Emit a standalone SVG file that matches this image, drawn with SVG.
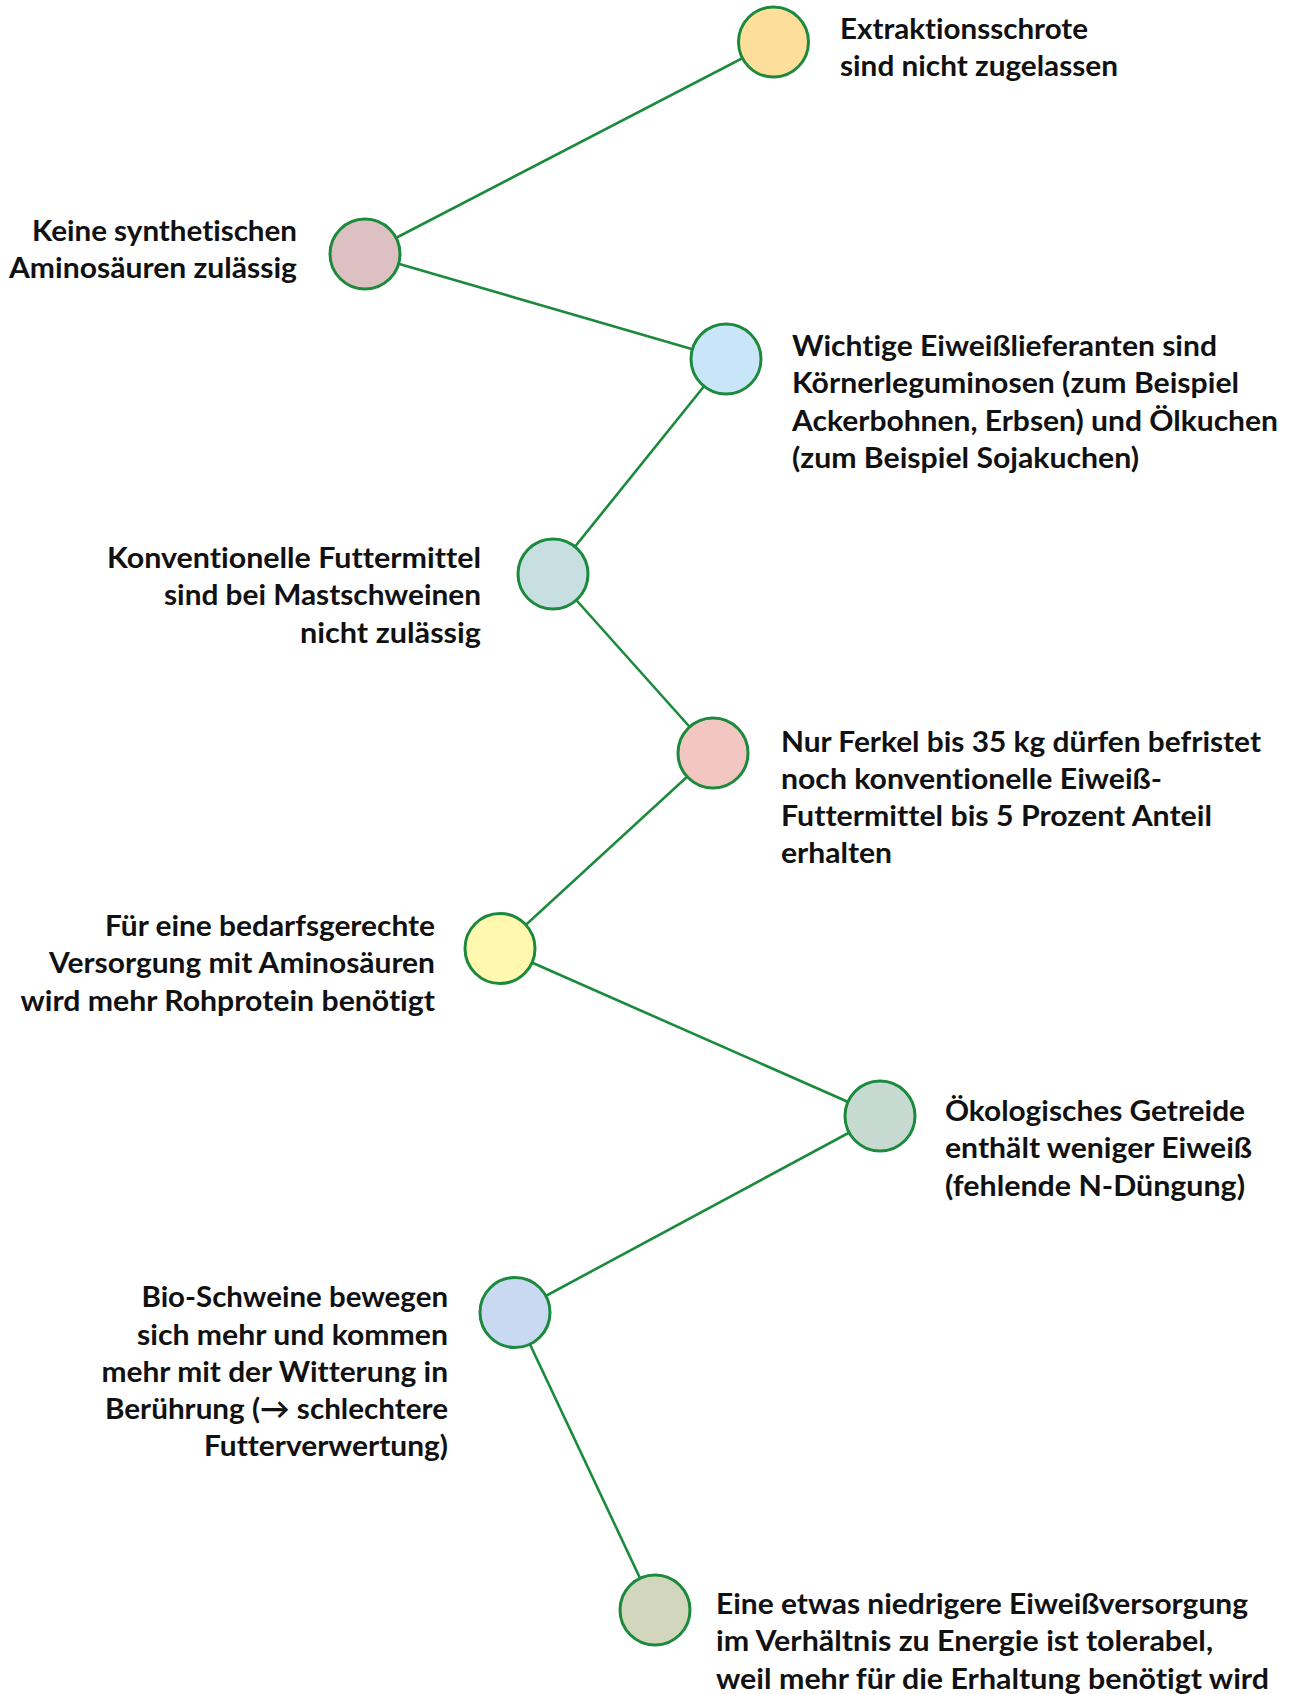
<svg xmlns="http://www.w3.org/2000/svg" width="1292" height="1694" viewBox="0 0 1292 1694">
<style>
text{font-family:Lato,"Noto Sans","DejaVu Sans",sans-serif;font-weight:700;font-size:29px;fill:#111;font-variant-ligatures:none;font-feature-settings:"liga" 0,"clig" 0}
.n{stroke:#1b8a3c;stroke-width:3}
.c line{stroke:#1b8a3c;stroke-width:2.6}
</style>
<rect width="1292" height="1694" fill="#fff"/>
<g class="c" id="connectors">
<line x1="773.5" y1="42" x2="365" y2="254"/>
<line x1="365" y1="254" x2="726" y2="359"/>
<line x1="726" y1="359" x2="553" y2="574"/>
<line x1="553" y1="574" x2="713" y2="753"/>
<line x1="713" y1="753" x2="500" y2="948.5"/>
<line x1="500" y1="948.5" x2="880" y2="1116"/>
<line x1="880" y1="1116" x2="515" y2="1312.5"/>
<line x1="515" y1="1312.5" x2="655" y2="1610"/>
</g>
<g id="n1"><circle class="n" cx="773.5" cy="42" r="35" fill="#fddf9b"/>
<text x="840" y="38.5" textLength="248" lengthAdjust="spacingAndGlyphs">Extraktionsschrote</text>
<text x="840" y="75.5" textLength="278" lengthAdjust="spacingAndGlyphs">sind nicht zugelassen</text></g>
<g id="n2"><circle class="n" cx="365" cy="254" r="35" fill="#ddc0c1"/>
<text x="32" y="241" textLength="265" lengthAdjust="spacingAndGlyphs">Keine synthetischen</text>
<text x="9" y="278" textLength="288" lengthAdjust="spacingAndGlyphs">Aminosäuren zulässig</text></g>
<g id="n3"><circle class="n" cx="726" cy="359" r="35" fill="#c9e6f8"/>
<text x="792" y="355.5" textLength="425" lengthAdjust="spacingAndGlyphs">Wichtige Eiweißlieferanten sind</text>
<text x="792" y="393" textLength="447" lengthAdjust="spacingAndGlyphs">Körnerleguminosen (zum Beispiel</text>
<text x="792" y="430.5" textLength="486" lengthAdjust="spacingAndGlyphs">Ackerbohnen, Erbsen) und Ölkuchen</text>
<text x="792" y="468" textLength="347" lengthAdjust="spacingAndGlyphs">(zum Beispiel Sojakuchen)</text></g>
<g id="n4"><circle class="n" cx="553" cy="574" r="35" fill="#c8dfe1"/>
<text x="107" y="567.5" textLength="374" lengthAdjust="spacingAndGlyphs">Konventionelle Futtermittel</text>
<text x="164" y="605" textLength="317" lengthAdjust="spacingAndGlyphs">sind bei Mastschweinen</text>
<text x="300" y="642.5" textLength="181" lengthAdjust="spacingAndGlyphs">nicht zulässig</text></g>
<g id="n5"><circle class="n" cx="713" cy="753" r="35" fill="#f3c6c2"/>
<text x="781" y="751.5" textLength="480" lengthAdjust="spacingAndGlyphs">Nur Ferkel bis 35 kg dürfen befristet</text>
<text x="781" y="788.5" textLength="381" lengthAdjust="spacingAndGlyphs">noch konventionelle Eiweiß-</text>
<text x="781" y="825.5" textLength="431" lengthAdjust="spacingAndGlyphs">Futtermittel bis 5 Prozent Anteil</text>
<text x="781" y="862.5" textLength="111" lengthAdjust="spacingAndGlyphs">erhalten</text></g>
<g id="n6"><circle class="n" cx="500" cy="948.5" r="35" fill="#fff8ae"/>
<text x="105" y="936" textLength="330" lengthAdjust="spacingAndGlyphs">Für eine bedarfsgerechte</text>
<text x="49" y="973" textLength="386" lengthAdjust="spacingAndGlyphs">Versorgung mit Aminosäuren</text>
<text x="20.5" y="1010.5" textLength="414.5" lengthAdjust="spacingAndGlyphs">wird mehr Rohprotein benötigt</text></g>
<g id="n7"><circle class="n" cx="880" cy="1116" r="35" fill="#c6dad1"/>
<text x="945" y="1120.5" textLength="300" lengthAdjust="spacingAndGlyphs">Ökologisches Getreide</text>
<text x="945" y="1157.5" textLength="307" lengthAdjust="spacingAndGlyphs">enthält weniger Eiweiß</text>
<text x="945" y="1195.5" textLength="300" lengthAdjust="spacingAndGlyphs">(fehlende N-Düngung)</text></g>
<g id="n8"><circle class="n" cx="515" cy="1312.5" r="35" fill="#c8d9f1"/>
<text x="141.5" y="1307" textLength="306.5" lengthAdjust="spacingAndGlyphs">Bio-Schweine bewegen</text>
<text x="137" y="1344.5" textLength="311" lengthAdjust="spacingAndGlyphs">sich mehr und kommen</text>
<text x="101.5" y="1381.5" textLength="346.5" lengthAdjust="spacingAndGlyphs">mehr mit der Witterung in</text>
<text x="105" y="1418.5" textLength="343" lengthAdjust="spacingAndGlyphs">Berührung (→ schlechtere</text>
<text x="204" y="1455.5" textLength="244" lengthAdjust="spacingAndGlyphs">Futterverwertung)</text></g>
<g id="n9"><circle class="n" cx="655" cy="1610" r="35" fill="#d1d6bd"/>
<text x="716" y="1613.5" textLength="532" lengthAdjust="spacingAndGlyphs">Eine etwas niedrigere Eiweißversorgung</text>
<text x="716" y="1651" textLength="497" lengthAdjust="spacingAndGlyphs">im Verhältnis zu Energie ist tolerabel,</text>
<text x="716" y="1688.5" textLength="553" lengthAdjust="spacingAndGlyphs">weil mehr für die Erhaltung benötigt wird</text></g>
</svg>
